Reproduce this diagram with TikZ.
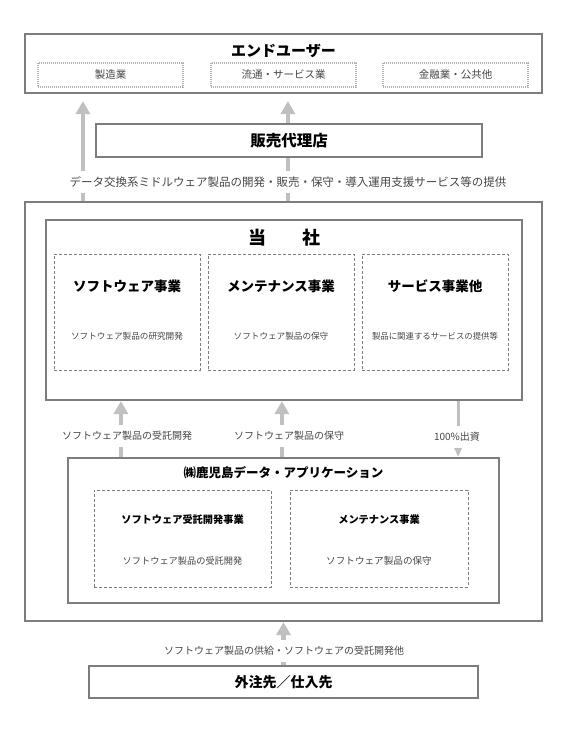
\documentclass[tikz,border=0pt]{standalone}
\usepackage{fontspec}
\setmainfont{Noto Sans CJK JP}
\usetikzlibrary{arrows.meta}
\usetikzlibrary{positioning}
\definecolor{framegray}{RGB}{125,125,125}
\definecolor{arrowgray}{RGB}{192,192,192}
\definecolor{textgray}{RGB}{70,70,70}
\newcommand{\fsz}[1]{\fontsize{#1}{#1}\selectfont}
\pgfdeclarelayer{background}
\pgfsetlayers{background,main}
\tikzset{frame/.style={draw=framegray, line width=2.2pt, fill=white, inner sep=0pt}}
\tikzset{dashbox/.style={draw=framegray, dash pattern=on 3pt off 2pt, line width=0.8pt, inner sep=0pt}}
\tikzset{dotbox/.style={draw=gray!60, dash pattern=on 1pt off 1pt, line width=1.3pt, inner sep=0pt, text=textgray, font=\fsz{10.5}}}
\tikzset{garrow/.style={draw=arrowgray, line width=4.5pt, -{Triangle[width=14pt,length=13pt]}}}
\tikzset{gthin/.style={draw=arrowgray, line width=3pt, -{Triangle[width=9pt,length=11pt]}}}
\tikzset{note/.style={fill=white, text=textgray, inner xsep=2pt, inner ysep=6pt}}
\tikzset{desc/.style={text=textgray, inner sep=0pt}}

\begin{document}
\begin{tikzpicture}[x=1pt,y=-1pt]
\useasboundingbox (0,0) rectangle (573,736);

%end users
\node[frame,minimum width=517pt,minimum height=59pt] (enduser) at (283.5,63.5) {};
\node[font=\fsz{15}\bfseries] (endusertitle) at ([yshift=-18pt]enduser.north) {エンドユーザー};
\node[dotbox,minimum width=145pt,minimum height=24pt] (maker) at ([xshift=-173pt,yshift=-11.5pt]enduser.center) {製造業};
\node[dotbox,minimum width=145pt,minimum height=24pt] (retail) at ([yshift=-11.5pt]enduser.center) {流通・サービス業};
\node[dotbox,minimum width=145pt,minimum height=24pt] (finance) at ([xshift=172pt,yshift=-11.5pt]enduser.center) {金融業・公共他};

%agency
\node[frame,minimum width=386pt,minimum height=33pt,font=\fsz{15.5}\bfseries] (agency) at (289,140.5) {販売代理店};

%outer frame
\node[draw=framegray,line width=2.2pt,inner sep=0pt,minimum width=517pt,minimum height=419pt] (outer) at (283.5,411.5) {};

%our company
\node[frame,minimum width=476pt,minimum height=180pt] (company) at (284,310) {};
\node[font=\fsz{18}\bfseries] (companytitle) at ([yshift=-19pt]company.north) {当\hspace{2em}社};
\node[dashbox,minimum width=146pt,minimum height=116pt] (software) at (127,312) {};
\node[dashbox,minimum width=146pt,minimum height=116pt] (maint) at (281,312) {};
\node[dashbox,minimum width=146pt,minimum height=116pt] (service) at (435,312) {};
\node[font=\fsz{13.5}\bfseries] (softwaretitle) at ([yshift=-33pt]software.north) {ソフトウェア事業};
\node[font=\fsz{13.5}\bfseries] (mainttitle) at ([yshift=-33pt]maint.north) {メンテナンス事業};
\node[font=\fsz{13.5}\bfseries] (servicetitle) at ([yshift=-33pt]service.north) {サービス事業他};
\node[desc,font=\fsz{8.6}] (softwaredesc) at ([yshift=-83pt]software.north) {ソフトウェア製品の研究開発};
\node[desc,font=\fsz{8.6}] (maintdesc) at ([yshift=-83pt]maint.north) {ソフトウェア製品の保守};
\node[desc,font=\fsz{8.4}] (servicedesc) at ([yshift=-83pt]service.north) {製品に関連するサービスの提供等};

%subsidiary
\node[frame,minimum width=431pt,minimum height=145pt] (subsid) at (283.5,530.5) {};
\node[font=\fsz{12.5}\bfseries] (subsidtitle) at ([yshift=-16pt]subsid.north) {㈱鹿児島データ・アプリケーション};
\node[dashbox,minimum width=177pt,minimum height=97pt] (contract) at (182.5,538.5) {};
\node[dashbox,minimum width=178pt,minimum height=97pt] (submaint) at (379,538.5) {};
\node[font=\fsz{10.2}\bfseries] (contracttitle) at ([yshift=-30pt]contract.north) {ソフトウェア受託開発事業};
\node[font=\fsz{10.2}\bfseries] (submainttitle) at ([yshift=-30pt]submaint.north) {メンテナンス事業};
\node[desc,font=\fsz{9.2}] (contractdesc) at ([yshift=-71pt]contract.north) {ソフトウェア製品の受託開発};
\node[desc,font=\fsz{9.6}] (submaintdesc) at ([yshift=-71pt]submaint.north) {ソフトウェア製品の保守};

%suppliers
\node[frame,minimum width=389pt,minimum height=32pt,font=\fsz{14}\bfseries] (supplier) at (283.5,682) {外注先／仕入先};

%labels
\node[note,font=\fsz{11.5}] (provide) at (288,182) {データ交換系ミドルウェア製品の開発・販売・保守・導入運用支援サービス等の提供};
\node[note,font=\fsz{10}] (devlabel) at (127,436) {ソフトウェア製品の受託開発};
\node[note,font=\fsz{10}] (maintlabel) at (289,436) {ソフトウェア製品の保守};
\node[note,font=\fsz{10}] (investlabel) at (457,437) {100\%出資};
\node[note,font=\fsz{10}] (supplylabel) at (284,651) {ソフトウェア製品の供給・ソフトウェアの受託開発他};

%arrows
\begin{pgfonlayer}{background}
\path[garrow] ([xshift=59pt]outer.north west) -- ([xshift=59pt,yshift=-7pt]enduser.south west);
\path[garrow] ([xshift=264pt]outer.north west) -- ([xshift=264pt,yshift=-7pt]enduser.south west);
\path[garrow] ([xshift=54pt]subsid.north west) -- ([xshift=76pt]company.south west);
\path[garrow] ([xshift=215pt]subsid.north west) -- ([xshift=237pt]company.south west);
\path[gthin] ([xshift=-65pt]company.south east) -- ([xshift=-42pt]subsid.north east);
\path[garrow] (supplier.north) -- (outer.south);
\end{pgfonlayer}

\end{tikzpicture}
\end{document}
